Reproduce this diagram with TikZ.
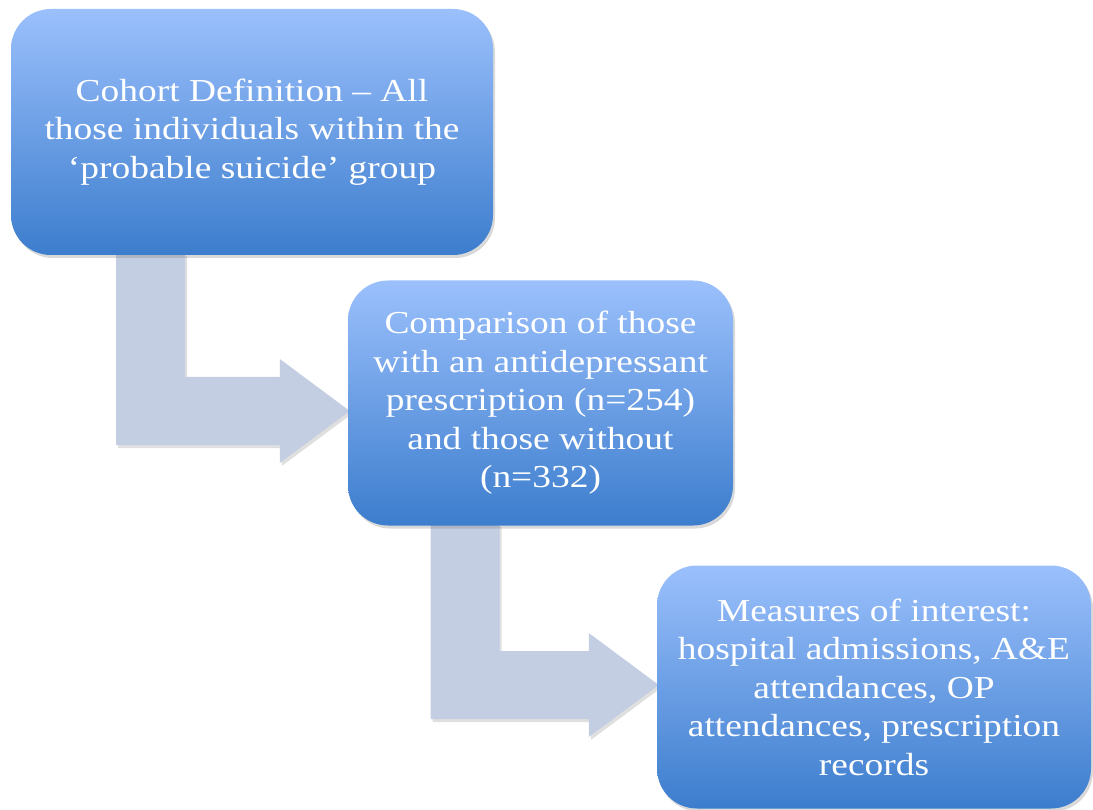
\documentclass[tikz,border=0pt]{standalone}
\usepackage{fontspec}
\setmainfont{Liberation Serif}
\newfontfamily\stagefont{Liberation Serif}[FakeStretch=1.17]
\usepackage{tikz}
\usetikzlibrary{calc, backgrounds, shadows}
\definecolor{boxtop}{RGB}{155, 192, 252}
\definecolor{boxbottom}{RGB}{60, 125, 205}
\definecolor{flowgrey}{RGB}{195, 206, 226}
\tikzstyle{stage} = [rectangle, rounded corners=40pt, top color=boxtop, bottom color=boxbottom, text=white, align=center, font=\stagefont\fontsize{32}{38.5}\selectfont, drop shadow={opacity=0.3, shadow xshift=2pt, shadow yshift=-3pt}]
\tikzstyle{flow} = [fill=flowgrey, drop shadow={opacity=0.25, shadow xshift=2pt, shadow yshift=-3pt}]
% bent arrow: from below #1, turning at #2, ending on the left side of #3
\newcommand{\bentarrow}[3]{%
    \fill[flow] ($(#1.south -| #2)+(-34.5,-2)$) -- ($(#1.south -| #2)+(34.5,-2)$)
        -- ($(#2)+(34.5,-34)$) -- ($(#2 -| #3.west)+(-68,-34)$) -- ($(#2 -| #3.west)+(-68,-52)$)
        -- ($(#2 -| #3.west)+(2,0)$)
        -- ($(#2 -| #3.west)+(-68,52)$) -- ($(#2 -| #3.west)+(-68,34)$)
        -- ($(#2)+(-34.5,34)$) -- cycle;}

\begin{document}
\begin{tikzpicture}[x=1pt, y=-1pt]
    \useasboundingbox (0,0) rectangle (1093,810);

    % Stages
    \node[stage, minimum width=482pt, minimum height=246pt] (cohort) at (252, 132) {Cohort Definition – All\\those individuals within the\\‘probable suicide’ group};
    \node[stage, minimum width=385pt, minimum height=245pt] (compare) at (540.5, 403) {Comparison of those\\with an antidepressant\\prescription (n=254)\\and those without\\(n=332)};
    \node[stage, minimum width=434pt, minimum height=243pt] (measures) at (874, 687) {Measures of interest:\\hospital admissions, A\&E\\attendances, OP\\attendances, prescription\\records};

    % Bends of the arrows
    \coordinate (bend1) at (150.5, 411);
    \coordinate (bend2) at (465, 685);

    % Arrows
    \begin{scope}[on background layer]
        \bentarrow{cohort}{bend1}{compare}
        \bentarrow{compare}{bend2}{measures}
    \end{scope}

\end{tikzpicture}
\end{document}
